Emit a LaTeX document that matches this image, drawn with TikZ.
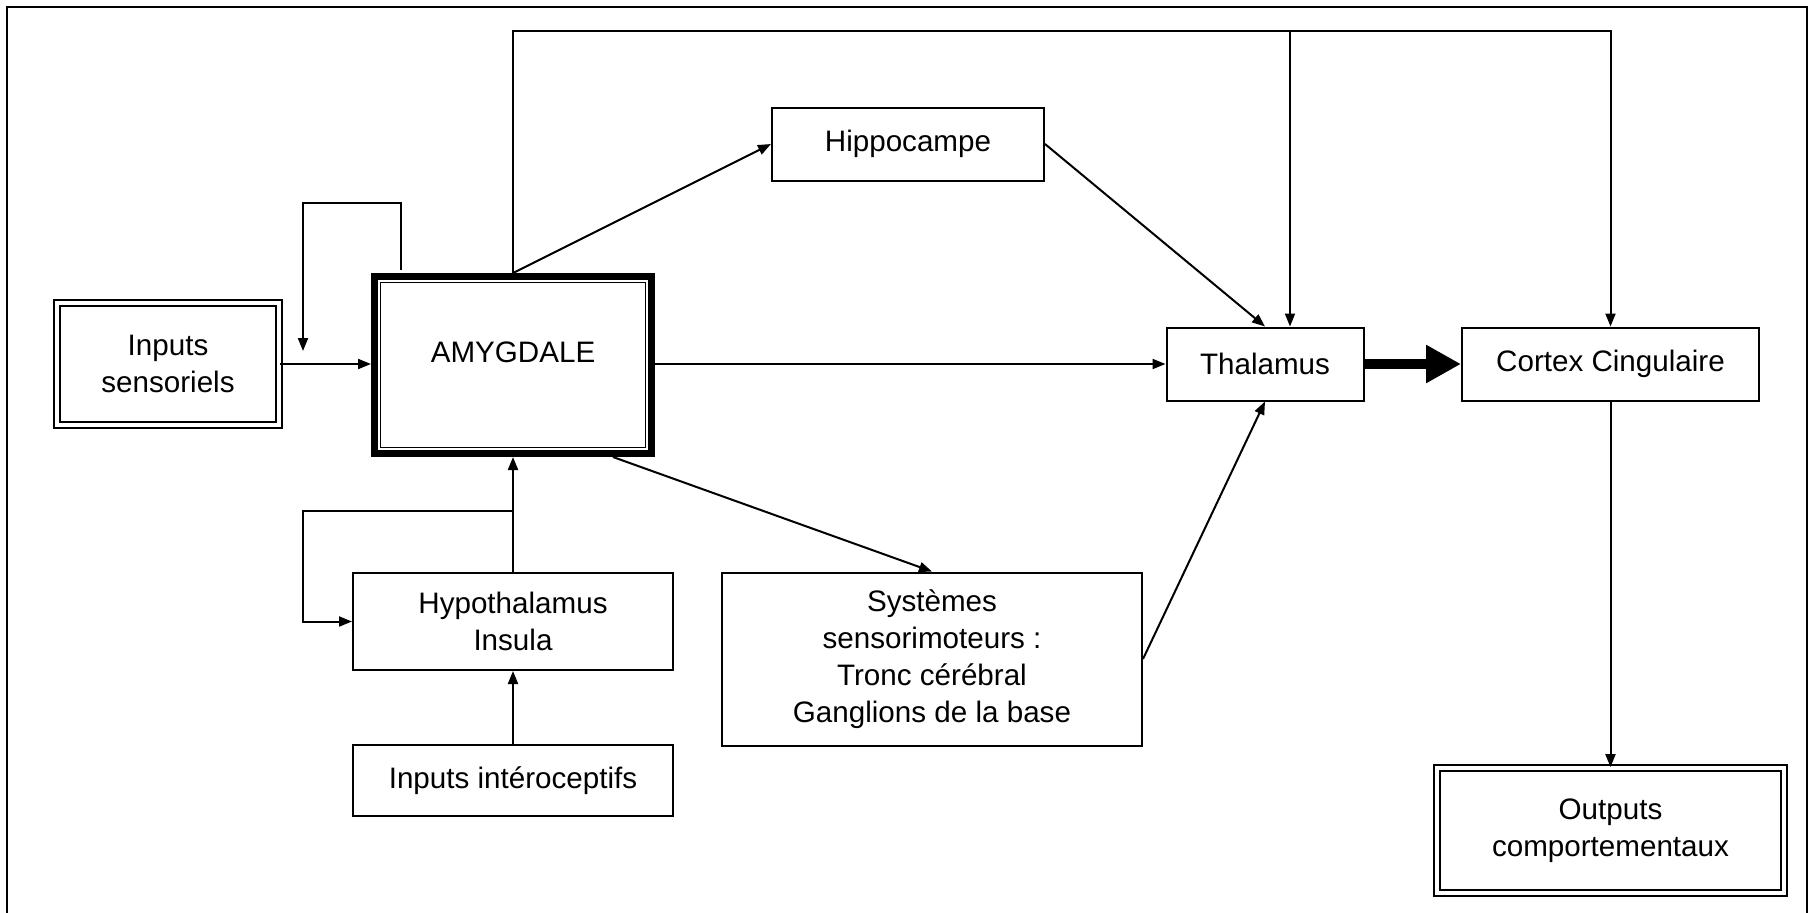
\documentclass[tikz,border=0pt]{standalone}
\usepackage{fontspec}
\setmainfont{Liberation Sans}
\usetikzlibrary{arrows.meta}
\begin{document}
\begin{tikzpicture}[x=0.5pt,y=-0.5pt,
  font=\fontsize{14.8}{18.6}\selectfont,
  box/.style={draw,line width=1pt,rectangle,inner sep=0pt,align=center},
  dbox/.style={box,double=white,double distance=2.2pt,line width=0.9pt},
  arr/.style={line width=1pt,-{Triangle[length=6.5pt,width=5pt]}},
  ln/.style={line width=1pt},
  bigarr/.style={line width=5pt,-{Triangle[length=17.5pt,width=18pt]}}]
\useasboundingbox (0,0) rectangle (1812,912);
\draw[line width=1.3pt] (7,915) -- (7,7) -- (1807,7) -- (1807,915);

\node[dbox,minimum width=111pt,minimum height=61pt] (ins) at (168,364) {Inputs\\sensoriels};
\node[box,line width=3.5pt,minimum width=138.5pt,minimum height=88.5pt,text depth=13pt] (amy) at (513,365) {AMYGDALE};
\draw[line width=0.9pt] ([shift={(9.5,9.5)}]amy.north west) rectangle ([shift={(-9.5,-9.5)}]amy.south east);
\node[box,minimum width=136pt,minimum height=36.5pt] (hip) at (908,144) {Hippocampe};
\node[box,minimum width=98.5pt,minimum height=36.5pt] (thal) at (1265,364) {Thalamus};
\node[box,minimum width=148.5pt,minimum height=36.5pt] (cor) at (1610.5,364) {Cortex Cingulaire};
\node[dbox,minimum width=173.5pt,minimum height=62.5pt] (out) at (1610.5,830.5) {Outputs\\comportementaux};
\node[box,minimum width=160pt,minimum height=48.5pt] (hyp) at (513,621.5) {Hypothalamus\\Insula};
\node[box,minimum width=160pt,minimum height=35.5pt] (int) at (513,780.5) {Inputs intéroceptifs};
\node[box,minimum width=210pt,minimum height=86.5pt] (sys) at (932,659) {Systèmes\\sensorimoteurs :\\Tronc cérébral\\Ganglions de la base};

\coordinate (topJ) at (1290,31);
\coordinate (loopEnd) at (303,351);
\coordinate (hypJ) at (513,511);

% inputs sensoriels -> amygdale
\draw[arr] (ins.east) -- (ins.east -| amy.west);
% self loop of amygdale
\draw[arr] ([shift={(30,-3)}]amy.north west) -- ++(0,-67) -| (loopEnd);
% amygdale -> thalamus
\draw[arr] (amy.east |- thal.west) -- (thal.west);
% amygdale -> hippocampe
\draw[arr] (amy.north) -- (hip.west);
% top route
\draw[ln] (amy.north) |- (topJ);
\draw[arr] (topJ) -| (cor.north);
\draw[arr] (topJ) -- (topJ |- thal.north);
% hippocampe -> thalamus
\draw[arr] (hip.east) -- (thal.north);
% amygdale -> systemes
\draw[arr] ([shift={(100,0)}]amy.south) -- (sys.north);
% systemes -> thalamus
\draw[arr] (sys.east) -- (thal.south);
% thalamus -> cortex
\draw[bigarr] (thal.east) -- (cor.west);
% cortex -> outputs
\draw[arr] (cor.south) -- (out.north);
% hypothalamus -> amygdale
\draw[arr] (hyp.north) -- (amy.south);
% loop to hypothalamus
\draw[arr] (hypJ) -- ++(-210,0) |- (hyp.west);
% interoceptifs -> hypothalamus
\draw[arr] (int.north) -- (hyp.south);
\end{tikzpicture}
\end{document}
